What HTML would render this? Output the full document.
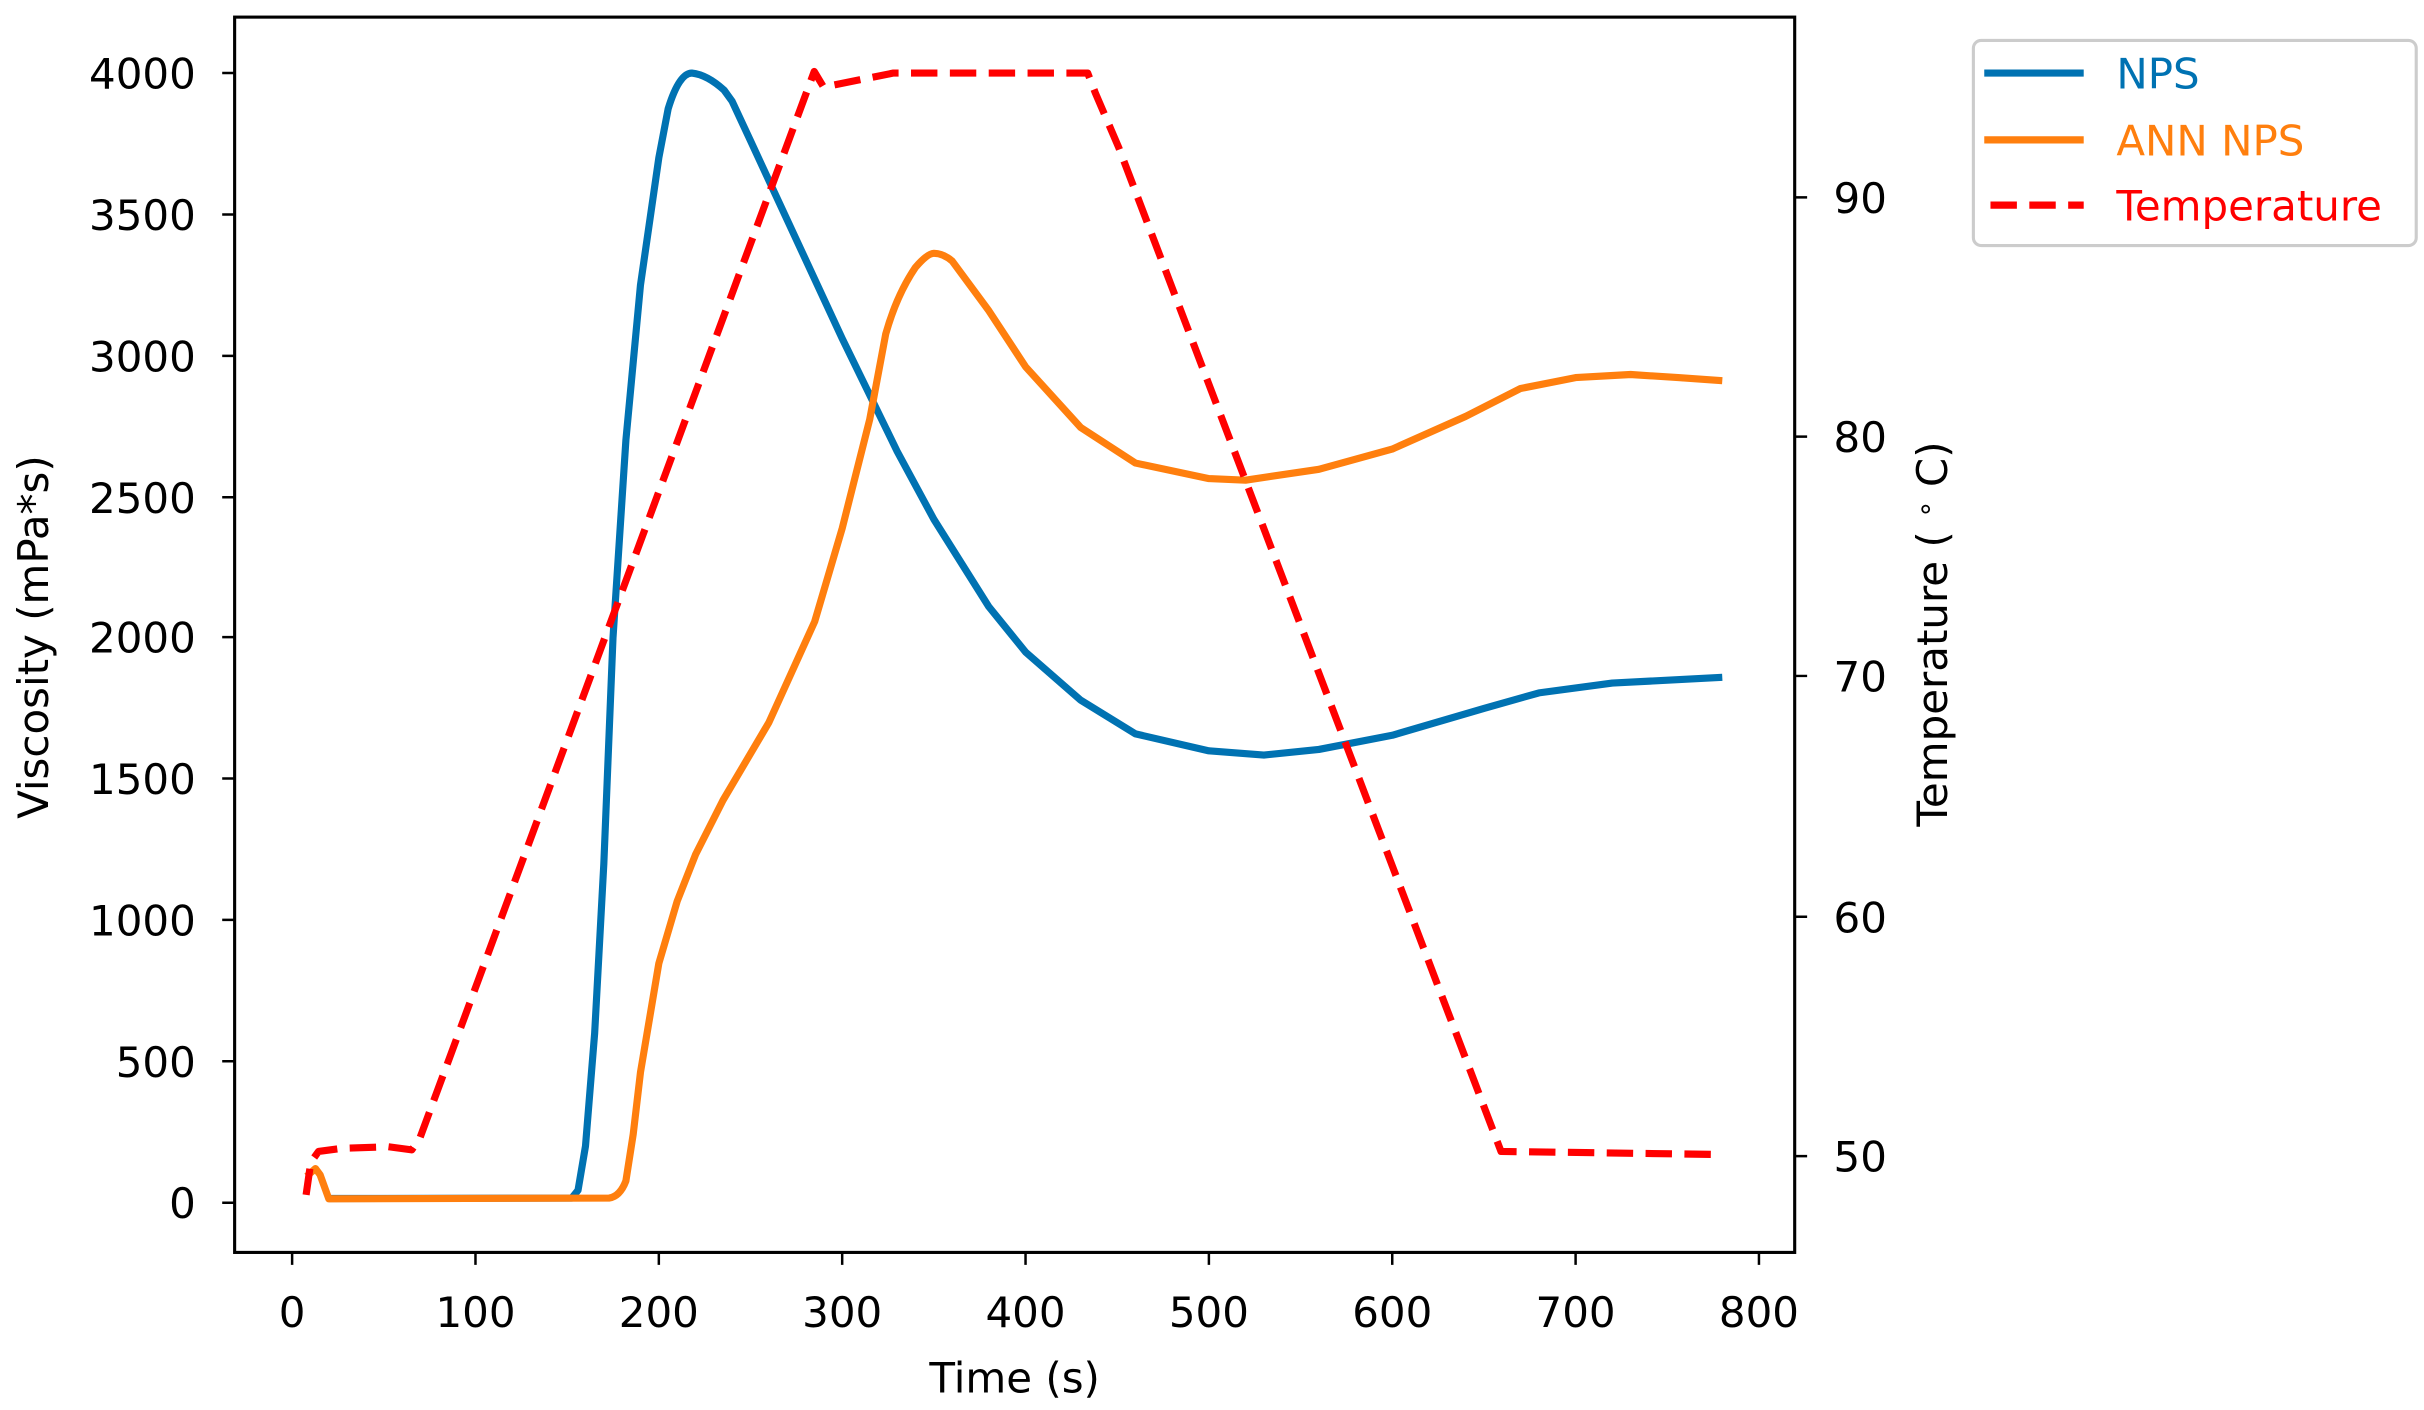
<!DOCTYPE html>
<html><head><meta charset="utf-8"><style>html,body{margin:0;padding:0;background:#fff}svg{display:block}</style></head>
<body>
<svg width="2424" height="1410" viewBox="0 0 1560 907.4" xmlns="http://www.w3.org/2000/svg" font-family="'DejaVu Sans','Liberation Sans',sans-serif">
<rect width="1560" height="907.4" fill="#fff"/>
<g fill="none" stroke-linejoin="round" stroke-linecap="butt">
<path stroke="#0072b2" stroke-width="4.6" d="M211.6,771.3 L368,771 L372,766 L376.8,737.6 L382.7,664.9 L388.6,555.9 L394.5,410.5 L402.8,283.3 L412.2,183.3 L424,101.5 L430,70 Q437,47 445.2,47 Q455,48 466,58 L471.2,65.2 L483,90.6 L506.6,141.5 L542,217.8 L577.4,290.5 L601,334.2 L636.4,390.5 L660,419.6 L695.4,450.5 L730.8,472.3 L778,483.2 L813.4,485.9 L848.8,482.3 L896,473.2 L955,455.9 L990.4,445.9 L1037.6,439.6 L1108.4,435.9"/>
<path stroke="#ff7f0e" stroke-width="4.6" d="M197.4,757 L203,752 L206,756 L211.6,771.5 L392,771 Q399,770 402.8,760 L407.5,730 L412.2,690 L424,620 L435.8,580 L447.6,550 L465.3,515 L494.8,465 L524.3,400 L542,340 L559.7,270 L570,215 Q577,190 589.2,172 Q597,163 601,163 Q607,163 612.8,168 L636.4,200 L660,236 L695.4,275 L730.8,298 L778,308 L801.6,309 L848.8,302 L896,289 L943.2,268 L978.6,250 L1014,243 L1049.4,241 L1080,243 L1108.4,245"/>
<path stroke="#ff0000" stroke-width="4.6" stroke-dasharray="17,8" d="M197,769 L200,748 L205,741 L220,739 L250,738 L265,740 L270,733 L524,46 L530,56 L545,53 L575,47 L700,47 L705,60 L720,95 L966,741 L1108,743"/>
</g>
<rect x="151" y="11" width="1004" height="795" fill="none" stroke="#000" stroke-width="2"/>
<g stroke="#000" stroke-width="1.6">
<path d="M188,806v8M306,806v8M424,806v8M542,806v8M660,806v8M778,806v8M896,806v8M1014,806v8M1132,806v8"/>
<path d="M151,774h-8M151,683h-8M151,592h-8M151,501h-8M151,410h-8M151,320h-8M151,229h-8M151,138h-8M151,47h-8"/>
<path d="M1155,127h8M1155,281h8M1155,435h8M1155,590h8M1155,744h8"/>
</g>
<g font-size="27" fill="#000">
<g text-anchor="middle">
<text x="188" y="854">0</text><text x="306" y="854">100</text><text x="424" y="854">200</text><text x="542" y="854">300</text><text x="660" y="854">400</text><text x="778" y="854">500</text><text x="896" y="854">600</text><text x="1014" y="854">700</text><text x="1132" y="854">800</text>
</g>
<g text-anchor="end">
<text x="126" y="784">0</text><text x="126" y="693">500</text><text x="126" y="602">1000</text><text x="126" y="511">1500</text><text x="126" y="420">2000</text><text x="126" y="330">2500</text><text x="126" y="239">3000</text><text x="126" y="148">3500</text><text x="126" y="57">4000</text>
</g>
<text x="1180" y="137">90</text><text x="1180" y="291">80</text><text x="1180" y="445">70</text><text x="1180" y="600">60</text><text x="1180" y="754">50</text>
<text x="653" y="896" text-anchor="middle">Time (s)</text>
<text transform="translate(31,410) rotate(-90)" text-anchor="middle">Viscosity (mPa*s)</text>
<text transform="translate(1253,408) rotate(-90)" text-anchor="middle">Temperature ( <tspan font-size="18" dy="-8">∘</tspan><tspan dy="8"> C)</tspan></text>
</g>
<rect x="1270" y="26" width="285" height="132" rx="5" fill="#fff" stroke="#ccc" stroke-width="2"/>
<line x1="1277" y1="47" x2="1341" y2="47" stroke="#0072b2" stroke-width="4.6"/>
<line x1="1277" y1="90" x2="1341" y2="90" stroke="#ff7f0e" stroke-width="4.6"/>
<line x1="1281" y1="132" x2="1341" y2="132" stroke="#ff0000" stroke-width="4.6" stroke-dasharray="17,8"/>
<g font-size="27">
<text x="1362" y="57" fill="#0072b2">NPS</text>
<text x="1362" y="100" fill="#ff7f0e">ANN NPS</text>
<text x="1362" y="142" fill="#ff0000">Temperature</text>
</g>
</svg>
</body></html>
